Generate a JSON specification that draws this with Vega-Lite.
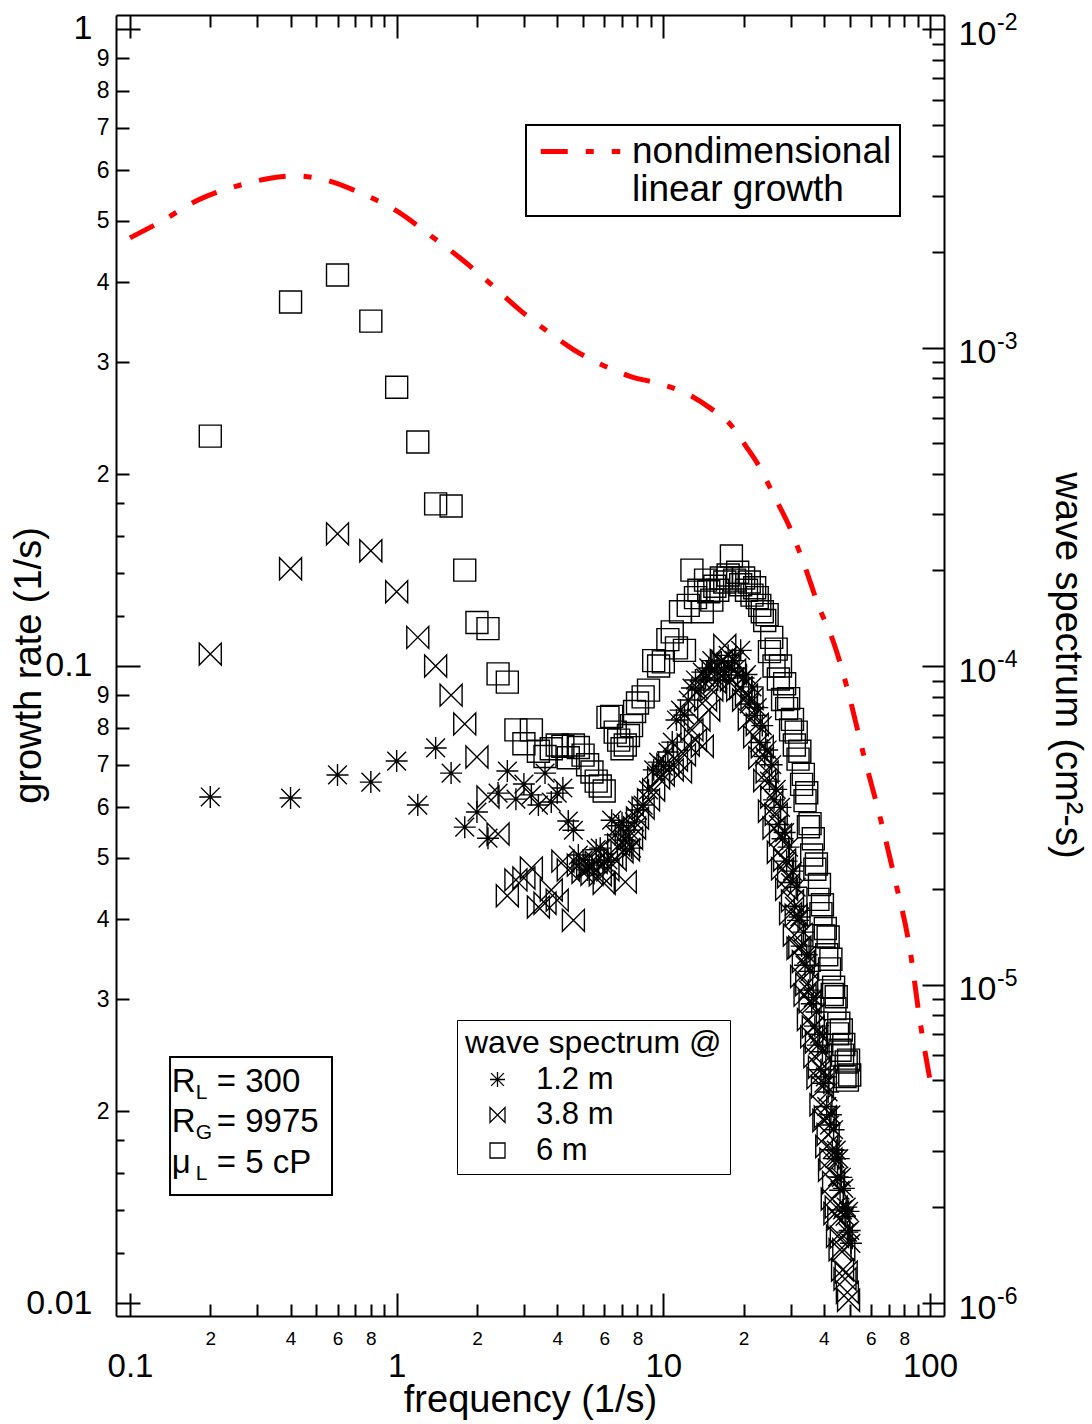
{
"$schema": "https://vega.github.io/schema/vega-lite/v6.json",
"width": 828, "height": 1301,
"autosize": {"type": "none"},
"padding": {"left": 116, "top": 15, "right": 148, "bottom": 108},
"background": "white",
"config": {
 "view": {"stroke": null},
 "font": "Liberation Sans",
 "axis": {"domainColor": "#000", "domainWidth": 2, "tickColor": "#000", "tickWidth": 2, "labelColor": "#000", "titleColor": "#000", "titleFontWeight": "normal", "grid": false, "labelOverlap": false, "labelFlush": false, "labelFont": "Liberation Sans", "titleFont": "Liberation Sans"},
 "legend": {"labelFont": "Liberation Sans", "titleFont": "Liberation Sans", "labelColor": "#000", "titleColor": "#000"}
},
"datasets": {
 "growth": [
  {"f":0.1,"g":0.47,"k":"nondimensional"},{"f":0.13,"g":0.498,"k":"nondimensional"},{"f":0.18,"g":0.539,"k":"nondimensional"},{"f":0.26,"g":0.569,"k":"nondimensional"},{"f":0.335,"g":0.583,"k":"nondimensional"},{"f":0.42,"g":0.588,"k":"nondimensional"},{"f":0.56,"g":0.577,"k":"nondimensional"},{"f":0.73,"g":0.553,"k":"nondimensional"},{"f":1.0,"g":0.518,"k":"nondimensional"},{"f":1.33,"g":0.475,"k":"nondimensional"},{"f":1.73,"g":0.437,"k":"nondimensional"},{"f":2.25,"g":0.398,"k":"nondimensional"},{"f":2.9,"g":0.362,"k":"nondimensional"},{"f":3.76,"g":0.333,"k":"nondimensional"},{"f":4.65,"g":0.313,"k":"nondimensional"},{"f":5.8,"g":0.298,"k":"nondimensional"},{"f":7.5,"g":0.285,"k":"nondimensional"},{"f":9.8,"g":0.277,"k":"nondimensional"},{"f":12.6,"g":0.266,"k":"nondimensional"},{"f":15,"g":0.254,"k":"nondimensional"},{"f":17.9,"g":0.239,"k":"nondimensional"},{"f":20.3,"g":0.222,"k":"nondimensional"},{"f":23,"g":0.205,"k":"nondimensional"},{"f":26,"g":0.185,"k":"nondimensional"},{"f":29.6,"g":0.166,"k":"nondimensional"},{"f":33.6,"g":0.145,"k":"nondimensional"},{"f":38,"g":0.125,"k":"nondimensional"},{"f":43.8,"g":0.108,"k":"nondimensional"},{"f":49.7,"g":0.09,"k":"nondimensional"},{"f":56.4,"g":0.0725,"k":"nondimensional"},{"f":64.7,"g":0.0583,"k":"nondimensional"},{"f":74,"g":0.0461,"k":"nondimensional"},{"f":84.2,"g":0.0358,"k":"nondimensional"},{"f":91.6,"g":0.0278,"k":"nondimensional"},{"f":100,"g":0.0224,"k":"nondimensional"}
 ],
 "box": [{"f":0.1413,"f2":0.5722,"g":0.02433,"g2":0.01477}],
 "params": [
  {"f":0.1435,"g":0.02144,"a":"R","sub":"L","b":"= 300"},
  {"f":0.1435,"g":0.01855,"a":"R","sub":"G","b":"= 9975"},
  {"f":0.1435,"g":0.0160,"a":"\u03bc","sub":"L","b":"= 5 cP"}
 ],
 "exps": [{"s":0.01,"t":"-2"},{"s":0.001,"t":"-3"},{"s":0.0001,"t":"-4"},{"s":0.00001,"t":"-5"},{"s":0.000001,"t":"-6"}],
 "spectrum": [
  {"f":0.2,"s":5.27e-4,"h":"6 m"},{"f":0.4,"s":1.39e-3,"h":"6 m"},{"f":0.6,"s":1.69e-3,"h":"6 m"},{"f":0.8,"s":1.21e-3,"h":"6 m"},{"f":1.0,"s":7.5e-4,"h":"6 m"},{"f":1.2,"s":5.05e-4,"h":"6 m"},{"f":1.4,"s":3.23e-4,"h":"6 m"},{"f":1.6,"s":3.18e-4,"h":"6 m"},{"f":1.8,"s":2.0e-4,"h":"6 m"},{"f":2.0,"s":1.37e-4,"h":"6 m"},
  {"f":2.2,"s":1.31e-4,"h":"6 m"},{"f":2.4,"s":9.45e-5,"h":"6 m"},{"f":2.6,"s":8.9e-5,"h":"6 m"},{"f":2.8,"s":6.3e-5,"h":"6 m"},{"f":3.0,"s":5.7e-5,"h":"6 m"},{"f":3.2,"s":6.3e-5,"h":"6 m"},{"f":3.4,"s":5.4e-5,"h":"6 m"},{"f":3.6,"s":5.2e-5,"h":"6 m"},{"f":3.8,"s":5.5e-5,"h":"6 m"},{"f":4.0,"s":5.65e-5,"h":"6 m"},
  {"f":4.2,"s":5.6e-5,"h":"6 m"},{"f":4.4,"s":5.15e-5,"h":"6 m"},{"f":4.6,"s":5.65e-5,"h":"6 m"},{"f":4.8,"s":5.55e-5,"h":"6 m"},{"f":5.0,"s":5.25e-5,"h":"6 m"},{"f":5.2,"s":4.9e-5,"h":"6 m"},{"f":5.4,"s":4.65e-5,"h":"6 m"},{"f":5.6,"s":4.35e-5,"h":"6 m"},{"f":5.8,"s":4.2e-5,"h":"6 m"},{"f":6.0,"s":4.05e-5,"h":"6 m"},
  {"f":6.2,"s":6.9e-5,"h":"6 m"},{"f":6.4,"s":6.95e-5,"h":"6 m"},{"f":6.6,"s":6.2e-5,"h":"6 m"},{"f":6.8,"s":5.85e-5,"h":"6 m"},{"f":7.0,"s":5.5e-5,"h":"6 m"},{"f":7.2,"s":5.65e-5,"h":"6 m"},{"f":7.4,"s":6.05e-5,"h":"6 m"},{"f":7.6,"s":6.5e-5,"h":"6 m"},{"f":7.8,"s":7.2e-5,"h":"6 m"},{"f":8.0,"s":7.65e-5,"h":"6 m"},
  {"f":8.4,"s":8.0e-5,"h":"6 m"},{"f":8.8,"s":8.4e-5,"h":"6 m"},{"f":9.2,"s":1.04e-4,"h":"6 m"},{"f":9.6,"s":1.0e-4,"h":"6 m"},{"f":10,"s":1.03e-4,"h":"6 m"},{"f":10.4,"s":1.21e-4,"h":"6 m"},{"f":10.8,"s":1.28e-4,"h":"6 m"},{"f":11.2,"s":1.14e-4,"h":"6 m"},{"f":11.6,"s":1.48e-4,"h":"6 m"},{"f":12,"s":1.12e-4,"h":"6 m"},
  {"f":12.4,"s":1.55e-4,"h":"6 m"},{"f":12.8,"s":2.0e-4,"h":"6 m"},{"f":13.2,"s":1.64e-4,"h":"6 m"},{"f":13.6,"s":1.73e-4,"h":"6 m"},{"f":14,"s":1.48e-4,"h":"6 m"},{"f":14.4,"s":1.86e-4,"h":"6 m"},{"f":14.8,"s":1.71e-4,"h":"6 m"},{"f":15.2,"s":1.61e-4,"h":"6 m"},{"f":15.6,"s":1.78e-4,"h":"6 m"},{"f":16,"s":1.73e-4,"h":"6 m"},
  {"f":16.5,"s":1.89e-4,"h":"6 m"},{"f":17,"s":1.835e-4,"h":"6 m"},{"f":17.5,"s":1.93e-4,"h":"6 m"},{"f":18,"s":2.215e-4,"h":"6 m"},{"f":18.5,"s":1.86e-4,"h":"6 m"},{"f":19,"s":1.97e-4,"h":"6 m"},{"f":19.5,"s":1.8e-4,"h":"6 m"},{"f":20,"s":1.89e-4,"h":"6 m"},{"f":20.5,"s":1.73e-4,"h":"6 m"},{"f":21,"s":1.835e-4,"h":"6 m"},
  {"f":21.5,"s":1.67e-4,"h":"6 m"},{"f":22,"s":1.76e-4,"h":"6 m"},{"f":22.5,"s":1.64e-4,"h":"6 m"},{"f":23,"s":1.55e-4,"h":"6 m"},{"f":23.5,"s":1.48e-4,"h":"6 m"},{"f":24,"s":1.39e-4,"h":"6 m"},{"f":24.5,"s":1.45e-4,"h":"6 m"},{"f":25,"s":1.11e-4,"h":"6 m"},{"f":25.5,"s":1.23e-4,"h":"6 m"},{"f":26,"s":1.0e-4,"h":"6 m"},
  {"f":26.5,"s":1.13e-4,"h":"6 m"},{"f":27,"s":9.1e-5,"h":"6 m"},{"f":27.5,"s":1.0e-4,"h":"6 m"},{"f":28,"s":7.85e-5,"h":"6 m"},{"f":28.5,"s":8.8e-5,"h":"6 m"},{"f":29,"s":7.35e-5,"h":"6 m"},{"f":29.5,"s":7.9e-5,"h":"6 m"},{"f":30,"s":6.3e-5,"h":"6 m"},{"f":30.5,"s":6.8e-5,"h":"6 m"},{"f":31,"s":5.65e-5,"h":"6 m"},
  {"f":31.5,"s":6.2e-5,"h":"6 m"},{"f":32,"s":5.1e-5,"h":"6 m"},{"f":32.5,"s":5.4e-5,"h":"6 m"},{"f":33,"s":4.25e-5,"h":"6 m"},{"f":33.5,"s":4.57e-5,"h":"6 m"},{"f":34,"s":3.78e-5,"h":"6 m"},{"f":34.5,"s":4.0e-5,"h":"6 m"},{"f":35,"s":3.13e-5,"h":"6 m"},{"f":35.5,"s":3.2e-5,"h":"6 m"},{"f":36,"s":2.55e-5,"h":"6 m"},
  {"f":36.5,"s":2.87e-5,"h":"6 m"},{"f":37,"s":2.3e-5,"h":"6 m"},{"f":37.5,"s":2.39e-5,"h":"6 m"},{"f":38,"s":1.85e-5,"h":"6 m"},{"f":38.5,"s":2.06e-5,"h":"6 m"},{"f":39,"s":1.67e-5,"h":"6 m"},{"f":39.5,"s":1.78e-5,"h":"6 m"},{"f":40,"s":1.42e-5,"h":"6 m"},{"f":40.5,"s":1.5e-5,"h":"6 m"},{"f":41,"s":1.24e-5,"h":"6 m"},
  {"f":41.5,"s":1.41e-5,"h":"6 m"},{"f":42,"s":1.12e-5,"h":"6 m"},{"f":42.5,"s":1.2e-5,"h":"6 m"},{"f":43,"s":9.3e-6,"h":"6 m"},{"f":43.5,"s":9.8e-6,"h":"6 m"},{"f":44,"s":8.4e-6,"h":"6 m"},{"f":44.5,"s":9.15e-6,"h":"6 m"},{"f":45,"s":7.0e-6,"h":"6 m"},{"f":45.5,"s":7.56e-6,"h":"6 m"},{"f":46,"s":6.22e-6,"h":"6 m"},
  {"f":46.5,"s":7.2e-6,"h":"6 m"},{"f":47,"s":6.0e-6,"h":"6 m"},{"f":47.5,"s":6.48e-6,"h":"6 m"},{"f":48,"s":5.14e-6,"h":"6 m"},{"f":48.5,"s":5.71e-6,"h":"6 m"},{"f":49,"s":5.01e-6,"h":"6 m"},{"f":49.5,"s":5.79e-6,"h":"6 m"},{"f":50,"s":5.2e-6,"h":"6 m"},

  {"f":0.2,"s":1.09e-4,"h":"3.8 m"},{"f":0.4,"s":2.02e-4,"h":"3.8 m"},{"f":0.6,"s":2.6e-4,"h":"3.8 m"},{"f":0.8,"s":2.3e-4,"h":"3.8 m"},{"f":1.0,"s":1.71e-4,"h":"3.8 m"},{"f":1.2,"s":1.23e-4,"h":"3.8 m"},{"f":1.4,"s":1.0e-4,"h":"3.8 m"},{"f":1.6,"s":8.1e-5,"h":"3.8 m"},{"f":1.8,"s":6.58e-5,"h":"3.8 m"},{"f":2.0,"s":5.18e-5,"h":"3.8 m"},
  {"f":2.2,"s":3.88e-5,"h":"3.8 m"},{"f":2.4,"s":2.97e-5,"h":"3.8 m"},{"f":2.6,"s":1.9e-5,"h":"3.8 m"},{"f":2.8,"s":2.13e-5,"h":"3.8 m"},{"f":3.0,"s":2.16e-5,"h":"3.8 m"},{"f":3.2,"s":2.32e-5,"h":"3.8 m"},{"f":3.4,"s":1.75e-5,"h":"3.8 m"},{"f":3.6,"s":1.8e-5,"h":"3.8 m"},{"f":3.8,"s":1.98e-5,"h":"3.8 m"},{"f":4.0,"s":1.84e-5,"h":"3.8 m"},
  {"f":4.2,"s":2.44e-5,"h":"3.8 m"},{"f":4.4,"s":2.29e-5,"h":"3.8 m"},{"f":4.6,"s":1.59e-5,"h":"3.8 m"},{"f":4.8,"s":2.37e-5,"h":"3.8 m"},{"f":5.0,"s":2.25e-5,"h":"3.8 m"},{"f":5.2,"s":2.36e-5,"h":"3.8 m"},{"f":5.4,"s":2.22e-5,"h":"3.8 m"},{"f":5.6,"s":2.42e-5,"h":"3.8 m"},{"f":5.8,"s":2.21e-5,"h":"3.8 m"},{"f":6.0,"s":2.08e-5,"h":"3.8 m"},
  {"f":6.2,"s":2.29e-5,"h":"3.8 m"},{"f":6.4,"s":2.53e-5,"h":"3.8 m"},{"f":6.6,"s":2.47e-5,"h":"3.8 m"},{"f":6.8,"s":2.74e-5,"h":"3.8 m"},{"f":7.0,"s":2.61e-5,"h":"3.8 m"},{"f":7.2,"s":2.1e-5,"h":"3.8 m"},{"f":7.4,"s":2.65e-5,"h":"3.8 m"},{"f":7.6,"s":2.88e-5,"h":"3.8 m"},{"f":7.8,"s":3.1e-5,"h":"3.8 m"},{"f":8.0,"s":3.33e-5,"h":"3.8 m"},
  {"f":8.4,"s":3.58e-5,"h":"3.8 m"},{"f":8.8,"s":3.8e-5,"h":"3.8 m"},{"f":9.2,"s":4.08e-5,"h":"3.8 m"},{"f":9.6,"s":4.45e-5,"h":"3.8 m"},{"f":10,"s":4.55e-5,"h":"3.8 m"},{"f":10.4,"s":4.89e-5,"h":"3.8 m"},{"f":10.8,"s":4.72e-5,"h":"3.8 m"},{"f":11.2,"s":5.07e-5,"h":"3.8 m"},{"f":11.6,"s":4.65e-5,"h":"3.8 m"},{"f":12,"s":5.26e-5,"h":"3.8 m"},
  {"f":12.4,"s":5.65e-5,"h":"3.8 m"},{"f":12.8,"s":6.3e-5,"h":"3.8 m"},{"f":13.2,"s":5.86e-5,"h":"3.8 m"},{"f":13.6,"s":6.77e-5,"h":"3.8 m"},{"f":14,"s":5.6e-5,"h":"3.8 m"},{"f":14.4,"s":7.82e-5,"h":"3.8 m"},{"f":14.8,"s":7.27e-5,"h":"3.8 m"},{"f":15.2,"s":8.41e-5,"h":"3.8 m"},{"f":15.6,"s":8.91e-5,"h":"3.8 m"},{"f":16,"s":9.57e-5,"h":"3.8 m"},
  {"f":16.5,"s":1.04e-4,"h":"3.8 m"},{"f":17,"s":1.16e-4,"h":"3.8 m"},{"f":17.5,"s":1.01e-4,"h":"3.8 m"},{"f":18,"s":9.04e-5,"h":"3.8 m"},{"f":18.5,"s":9.71e-5,"h":"3.8 m"},{"f":19,"s":8.41e-5,"h":"3.8 m"},{"f":19.5,"s":8.53e-5,"h":"3.8 m"},{"f":20,"s":7.82e-5,"h":"3.8 m"},{"f":20.5,"s":8.1e-5,"h":"3.8 m"},{"f":21,"s":6.8e-5,"h":"3.8 m"},
  {"f":21.5,"s":7.9e-5,"h":"3.8 m"},{"f":22,"s":6.0e-5,"h":"3.8 m"},{"f":22.5,"s":6.55e-5,"h":"3.8 m"},{"f":23,"s":5.15e-5,"h":"3.8 m"},{"f":23.5,"s":5.58e-5,"h":"3.8 m"},{"f":24,"s":4.37e-5,"h":"3.8 m"},{"f":24.5,"s":4.65e-5,"h":"3.8 m"},{"f":25,"s":3.5e-5,"h":"3.8 m"},{"f":25.5,"s":3.88e-5,"h":"3.8 m"},{"f":26,"s":3.1e-5,"h":"3.8 m"},
  {"f":26.5,"s":3.42e-5,"h":"3.8 m"},{"f":27,"s":2.6e-5,"h":"3.8 m"},{"f":27.5,"s":2.95e-5,"h":"3.8 m"},{"f":28,"s":2.31e-5,"h":"3.8 m"},{"f":28.5,"s":2.46e-5,"h":"3.8 m"},{"f":29,"s":1.99e-5,"h":"3.8 m"},{"f":29.5,"s":2.18e-5,"h":"3.8 m"},{"f":30,"s":1.67e-5,"h":"3.8 m"},{"f":30.5,"s":1.83e-5,"h":"3.8 m"},{"f":31,"s":1.43e-5,"h":"3.8 m"},
  {"f":31.5,"s":1.65e-5,"h":"3.8 m"},{"f":32,"s":1.3e-5,"h":"3.8 m"},{"f":32.5,"s":1.31e-5,"h":"3.8 m"},{"f":33,"s":1.06e-5,"h":"3.8 m"},{"f":33.5,"s":1.18e-5,"h":"3.8 m"},{"f":34,"s":9.26e-6,"h":"3.8 m"},{"f":34.5,"s":1.0e-5,"h":"3.8 m"},{"f":35,"s":7.76e-6,"h":"3.8 m"},{"f":35.5,"s":8.82e-6,"h":"3.8 m"},{"f":36,"s":6.86e-6,"h":"3.8 m"},
  {"f":36.5,"s":7.36e-6,"h":"3.8 m"},{"f":37,"s":5.94e-6,"h":"3.8 m"},{"f":37.5,"s":6.6e-6,"h":"3.8 m"},{"f":38,"s":5.09e-6,"h":"3.8 m"},{"f":38.5,"s":5.5e-6,"h":"3.8 m"},{"f":39,"s":4.19e-6,"h":"3.8 m"},{"f":39.5,"s":4.77e-6,"h":"3.8 m"},{"f":40,"s":3.74e-6,"h":"3.8 m"},{"f":40.5,"s":3.84e-6,"h":"3.8 m"},{"f":41,"s":3.1e-6,"h":"3.8 m"},
  {"f":41.5,"s":3.38e-6,"h":"3.8 m"},{"f":42,"s":2.61e-6,"h":"3.8 m"},{"f":42.5,"s":2.83e-6,"h":"3.8 m"},{"f":43,"s":2.12e-6,"h":"3.8 m"},{"f":43.5,"s":2.39e-6,"h":"3.8 m"},{"f":44,"s":1.91e-6,"h":"3.8 m"},{"f":44.5,"s":2.0e-6,"h":"3.8 m"},{"f":45,"s":1.62e-6,"h":"3.8 m"},{"f":45.5,"s":1.84e-6,"h":"3.8 m"},{"f":46,"s":1.47e-6,"h":"3.8 m"},
  {"f":46.5,"s":1.61e-6,"h":"3.8 m"},{"f":47,"s":1.27e-6,"h":"3.8 m"},{"f":47.5,"s":1.47e-6,"h":"3.8 m"},{"f":48,"s":1.19e-6,"h":"3.8 m"},{"f":48.5,"s":1.25e-6,"h":"3.8 m"},{"f":49,"s":1.08e-6,"h":"3.8 m"},{"f":49.5,"s":1.02e-6,"h":"3.8 m"},

  {"f":0.2,"s":3.88e-5,"h":"1.2 m"},{"f":0.4,"s":3.85e-5,"h":"1.2 m"},{"f":0.6,"s":4.55e-5,"h":"1.2 m"},{"f":0.8,"s":4.32e-5,"h":"1.2 m"},{"f":1.0,"s":5.03e-5,"h":"1.2 m"},{"f":1.2,"s":3.66e-5,"h":"1.2 m"},{"f":1.4,"s":5.53e-5,"h":"1.2 m"},{"f":1.6,"s":4.61e-5,"h":"1.2 m"},{"f":1.8,"s":3.12e-5,"h":"1.2 m"},{"f":2.0,"s":3.48e-5,"h":"1.2 m"},
  {"f":2.2,"s":2.88e-5,"h":"1.2 m"},{"f":2.4,"s":3.99e-5,"h":"1.2 m"},{"f":2.6,"s":4.68e-5,"h":"1.2 m"},{"f":2.8,"s":3.82e-5,"h":"1.2 m"},{"f":3.0,"s":4.26e-5,"h":"1.2 m"},{"f":3.2,"s":3.94e-5,"h":"1.2 m"},{"f":3.4,"s":3.66e-5,"h":"1.2 m"},{"f":3.6,"s":4.61e-5,"h":"1.2 m"},{"f":3.8,"s":3.74e-5,"h":"1.2 m"},{"f":4.0,"s":3.99e-5,"h":"1.2 m"},
  {"f":4.2,"s":4.14e-5,"h":"1.2 m"},{"f":4.4,"s":3.26e-5,"h":"1.2 m"},{"f":4.6,"s":3.05e-5,"h":"1.2 m"},{"f":4.8,"s":2.55e-5,"h":"1.2 m"},{"f":5.0,"s":2.46e-5,"h":"1.2 m"},{"f":5.2,"s":2.29e-5,"h":"1.2 m"},{"f":5.4,"s":2.37e-5,"h":"1.2 m"},{"f":5.6,"s":2.65e-5,"h":"1.2 m"},{"f":5.8,"s":2.68e-5,"h":"1.2 m"},{"f":6.0,"s":2.42e-5,"h":"1.2 m"},
  {"f":6.2,"s":2.46e-5,"h":"1.2 m"},{"f":6.4,"s":3.28e-5,"h":"1.2 m"},{"f":6.6,"s":2.95e-5,"h":"1.2 m"},{"f":6.8,"s":3.15e-5,"h":"1.2 m"},{"f":7.0,"s":3.22e-5,"h":"1.2 m"},{"f":7.2,"s":2.84e-5,"h":"1.2 m"},{"f":7.4,"s":3.05e-5,"h":"1.2 m"},{"f":7.6,"s":2.68e-5,"h":"1.2 m"},{"f":7.8,"s":3.24e-5,"h":"1.2 m"},{"f":8.0,"s":3.53e-5,"h":"1.2 m"},
  {"f":8.4,"s":3.66e-5,"h":"1.2 m"},{"f":8.8,"s":4.08e-5,"h":"1.2 m"},{"f":9.2,"s":4.72e-5,"h":"1.2 m"},{"f":9.6,"s":4.99e-5,"h":"1.2 m"},{"f":10,"s":4.85e-5,"h":"1.2 m"},{"f":10.4,"s":5.37e-5,"h":"1.2 m"},{"f":10.8,"s":5.77e-5,"h":"1.2 m"},{"f":11.2,"s":6.77e-5,"h":"1.2 m"},{"f":11.6,"s":7.27e-5,"h":"1.2 m"},{"f":12,"s":7.02e-5,"h":"1.2 m"},
  {"f":12.4,"s":7.82e-5,"h":"1.2 m"},{"f":12.8,"s":8.53e-5,"h":"1.2 m"},{"f":13.2,"s":9.04e-5,"h":"1.2 m"},{"f":13.6,"s":8.41e-5,"h":"1.2 m"},{"f":14,"s":9.57e-5,"h":"1.2 m"},{"f":14.4,"s":9.17e-5,"h":"1.2 m"},{"f":14.8,"s":9.86e-5,"h":"1.2 m"},{"f":15.2,"s":1.04e-4,"h":"1.2 m"},{"f":15.6,"s":9.71e-5,"h":"1.2 m"},{"f":16,"s":9.04e-5,"h":"1.2 m"},
  {"f":16.5,"s":1.03e-4,"h":"1.2 m"},{"f":17,"s":9.57e-5,"h":"1.2 m"},{"f":17.5,"s":1.08e-4,"h":"1.2 m"},{"f":18,"s":9.86e-5,"h":"1.2 m"},{"f":18.5,"s":1.04e-4,"h":"1.2 m"},{"f":19,"s":9.37e-5,"h":"1.2 m"},{"f":19.5,"s":1.12e-4,"h":"1.2 m"},{"f":20,"s":9.17e-5,"h":"1.2 m"},{"f":20.5,"s":9.4e-5,"h":"1.2 m"},{"f":21,"s":7.6e-5,"h":"1.2 m"},
  {"f":21.5,"s":8.6e-5,"h":"1.2 m"},{"f":22,"s":7.0e-5,"h":"1.2 m"},{"f":22.5,"s":7.4e-5,"h":"1.2 m"},{"f":23,"s":5.75e-5,"h":"1.2 m"},{"f":23.5,"s":6.5e-5,"h":"1.2 m"},{"f":24,"s":5.2e-5,"h":"1.2 m"},{"f":24.5,"s":5.45e-5,"h":"1.2 m"},{"f":25,"s":4.35e-5,"h":"1.2 m"},{"f":25.5,"s":4.9e-5,"h":"1.2 m"},{"f":26,"s":3.8e-5,"h":"1.2 m"},
  {"f":26.5,"s":4.1e-5,"h":"1.2 m"},{"f":27,"s":3.18e-5,"h":"1.2 m"},{"f":27.5,"s":3.6e-5,"h":"1.2 m"},{"f":28,"s":2.87e-5,"h":"1.2 m"},{"f":28.5,"s":3.0e-5,"h":"1.2 m"},{"f":29,"s":2.44e-5,"h":"1.2 m"},{"f":29.5,"s":2.7e-5,"h":"1.2 m"},{"f":30,"s":2.09e-5,"h":"1.2 m"},{"f":30.5,"s":2.27e-5,"h":"1.2 m"},{"f":31,"s":1.76e-5,"h":"1.2 m"},
  {"f":31.5,"s":2.02e-5,"h":"1.2 m"},{"f":32,"s":1.59e-5,"h":"1.2 m"},{"f":32.5,"s":1.63e-5,"h":"1.2 m"},{"f":33,"s":1.32e-5,"h":"1.2 m"},{"f":33.5,"s":1.46e-5,"h":"1.2 m"},{"f":34,"s":1.15e-5,"h":"1.2 m"},{"f":34.5,"s":1.24e-5,"h":"1.2 m"},{"f":35,"s":9.6e-6,"h":"1.2 m"},{"f":35.5,"s":1.1e-5,"h":"1.2 m"},{"f":36,"s":8.7e-6,"h":"1.2 m"},
  {"f":36.5,"s":9.1e-6,"h":"1.2 m"},{"f":37,"s":7.4e-6,"h":"1.2 m"},{"f":37.5,"s":8.2e-6,"h":"1.2 m"},{"f":38,"s":6.45e-6,"h":"1.2 m"},{"f":38.5,"s":6.98e-6,"h":"1.2 m"},{"f":39,"s":5.4e-6,"h":"1.2 m"},{"f":39.5,"s":6.15e-6,"h":"1.2 m"},{"f":40,"s":4.9e-6,"h":"1.2 m"},{"f":40.5,"s":5.13e-6,"h":"1.2 m"},{"f":41,"s":4.14e-6,"h":"1.2 m"},
  {"f":41.5,"s":4.6e-6,"h":"1.2 m"},{"f":42,"s":3.62e-6,"h":"1.2 m"},{"f":42.5,"s":3.9e-6,"h":"1.2 m"},{"f":43,"s":3.03e-6,"h":"1.2 m"},{"f":43.5,"s":3.5e-6,"h":"1.2 m"},{"f":44,"s":2.84e-6,"h":"1.2 m"},{"f":44.5,"s":3.02e-6,"h":"1.2 m"},{"f":45,"s":2.49e-6,"h":"1.2 m"},{"f":45.5,"s":2.84e-6,"h":"1.2 m"},{"f":46,"s":2.26e-6,"h":"1.2 m"},
  {"f":46.5,"s":2.48e-6,"h":"1.2 m"},{"f":47,"s":1.96e-6,"h":"1.2 m"},{"f":47.5,"s":2.29e-6,"h":"1.2 m"},{"f":48,"s":1.87e-6,"h":"1.2 m"},{"f":48.5,"s":2.0e-6,"h":"1.2 m"},{"f":49,"s":1.67e-6,"h":"1.2 m"},{"f":49.5,"s":1.94e-6,"h":"1.2 m"},{"f":50,"s":1.69e-6,"h":"1.2 m"},{"f":50.5,"s":1.54e-6,"h":"1.2 m"}
 ]
},
"layer": [
 {"layer": [
  {"data": {"name": "growth"},
   "mark": {"type": "line", "strokeWidth": 5, "strokeDash": [27, 18, 8, 18], "interpolate": "monotone"},
   "encoding": {
    "x": {"field": "f", "type": "quantitative",
      "scale": {"type": "log", "domain": [0.08861, 112.85], "nice": false},
      "axis": {"orient": "bottom",
        "values": [0.1,0.2,0.3,0.4,0.5,0.6,0.7,0.8,0.9,1,2,3,4,5,6,7,8,9,10,20,30,40,50,60,70,80,90,100],
        "labelExpr": "abs(datum.value/pow(10,floor(log(datum.value)/LN10+1e-6))-1)<0.001 ? format(datum.value,'~g') : (round(datum.value/pow(10,floor(log(datum.value)/LN10+1e-6)))%2==0 ? ''+round(datum.value/pow(10,floor(log(datum.value)/LN10+1e-6))) : '')",
        "labelFontSize": {"condition": {"test": "abs(datum.value/pow(10,floor(log(datum.value)/LN10+1e-6))-1)<0.001", "value": 33}, "value": 19},
        "labelPadding": {"condition": {"test": "abs(datum.value/pow(10,floor(log(datum.value)/LN10+1e-6))-1)<0.001", "value": 57}, "value": 25},
        "tickSize": {"condition": {"test": "abs(datum.value/pow(10,floor(log(datum.value)/LN10+1e-6))-1)<0.001", "value": -23}, "value": -12},
        "labelBaseline": "top",
        "title": "frequency (1/s)", "titleFontSize": 38, "titleBaseline": "alphabetic", "titleAlign": "center", "titleX": 414, "titleY": 95}},
    "y": {"field": "g", "type": "quantitative",
      "scale": {"type": "log", "domain": [0.009541, 1.0519], "nice": false},
      "axis": {"orient": "left",
        "values": [0.01,0.012,0.014,0.016,0.018,0.02,0.03,0.04,0.05,0.06,0.07,0.08,0.09,0.1,0.12,0.14,0.16,0.18,0.2,0.3,0.4,0.5,0.6,0.7,0.8,0.9,1],
        "labelExpr": "abs(datum.value/pow(10,floor(log(datum.value)/LN10+1e-6))-1)<0.001 ? format(datum.value,'~g') : (abs(datum.value/pow(10,floor(log(datum.value)/LN10+1e-6))-round(datum.value/pow(10,floor(log(datum.value)/LN10+1e-6))))<0.001 ? ''+round(datum.value/pow(10,floor(log(datum.value)/LN10+1e-6))) : '')",
        "labelFontSize": {"condition": {"test": "abs(datum.value/pow(10,floor(log(datum.value)/LN10+1e-6))-1)<0.001", "value": 34}, "value": 23},
        "labelPadding": {"condition": {"test": "abs(datum.value/pow(10,floor(log(datum.value)/LN10+1e-6))-1)<0.001", "value": 48}, "value": 20},
        "tickSize": {"condition": [
            {"test": "abs(datum.value/pow(10,floor(log(datum.value)/LN10+1e-6))-1)<0.001", "value": -24},
            {"test": "abs(datum.value/pow(10,floor(log(datum.value)/LN10+1e-6))-round(datum.value/pow(10,floor(log(datum.value)/LN10+1e-6))))<0.001", "value": -13}],
          "value": -8},
        "title": "growth rate (1/s)", "titleFontSize": 38, "titleAngle": -90, "titleBaseline": "alphabetic", "titleAlign": "center", "titleX": -76, "titleY": 650}},
    "color": {"field": "k", "type": "nominal",
      "scale": {"domain": ["nondimensional", "linear growth"], "range": ["#ff0000", "#ff0000"]},
      "legend": {"orient": "none", "legendX": 410, "legendY": 110, "title": null,
        "symbolType": "M-2.65,0H2.65", "symbolSize": 900, "symbolStrokeWidth": 5, "symbolDash": [27, 18, 8, 18], "symbolFillColor": "transparent",
        "symbolOffset": 28, "labelOffset": 33, "labelFontSize": 37, "labelLimit": 500, "rowPadding": 0,
        "padding": 8, "strokeColor": "#000",
        "encode": {"symbols": {"update": {"strokeOpacity": {"signal": "datum.value === 'linear growth' ? 0 : 1"}}},
                   "legend": {"update": {"strokeWidth": {"value": 2}}}}}}
   }},
  {"data": {"name": "box"},
   "mark": {"type": "rect", "fillOpacity": 0, "stroke": "#000", "strokeWidth": 2},
   "encoding": {"x": {"field": "f", "type": "quantitative"}, "x2": {"field": "f2"}, "y": {"field": "g", "type": "quantitative"}, "y2": {"field": "g2"}}},
  {"data": {"name": "params"},
   "mark": {"type": "text", "align": "left", "baseline": "alphabetic", "fontSize": 33, "color": "#000"},
   "encoding": {"x": {"field": "f", "type": "quantitative"}, "y": {"field": "g", "type": "quantitative"}, "text": {"field": "a"}}},
  {"data": {"name": "params"},
   "mark": {"type": "text", "align": "left", "baseline": "alphabetic", "fontSize": 21, "dx": 24, "dy": 7, "color": "#000"},
   "encoding": {"x": {"field": "f", "type": "quantitative"}, "y": {"field": "g", "type": "quantitative"}, "text": {"field": "sub"}}},
  {"data": {"name": "params"},
   "mark": {"type": "text", "align": "left", "baseline": "alphabetic", "fontSize": 33, "dx": 45, "color": "#000"},
   "encoding": {"x": {"field": "f", "type": "quantitative"}, "y": {"field": "g", "type": "quantitative"}, "text": {"field": "b"}}}
 ]},
 {"layer": [
  {"data": {"name": "spectrum"},
   "mark": {"type": "point", "filled": false, "size": 484, "strokeWidth": 1.4, "color": "#000", "opacity": 1},
   "encoding": {
    "x": {"field": "f", "type": "quantitative",
      "scale": {"type": "log", "domain": [0.08861, 112.85], "nice": false},
      "axis": {"orient": "top", "labels": false, "title": null,
        "values": [0.1,0.2,0.3,0.4,0.5,0.6,0.7,0.8,0.9,1,2,3,4,5,6,7,8,9,10,20,30,40,50,60,70,80,90,100],
        "tickSize": {"condition": {"test": "abs(datum.value/pow(10,floor(log(datum.value)/LN10+1e-6))-1)<0.001", "value": -23}, "value": -12}}},
    "y": {"field": "s", "type": "quantitative",
      "scale": {"type": "log", "domain": [9.104e-7, 0.011066], "nice": false},
      "axis": {"orient": "right",
        "values": [1e-6,2e-6,3e-6,4e-6,5e-6,6e-6,7e-6,8e-6,9e-6,1e-5,2e-5,3e-5,4e-5,5e-5,6e-5,7e-5,8e-5,9e-5,1e-4,2e-4,3e-4,4e-4,5e-4,6e-4,7e-4,8e-4,9e-4,1e-3,2e-3,3e-3,4e-3,5e-3,6e-3,7e-3,8e-3,9e-3,1e-2],
        "labelExpr": "abs(datum.value/pow(10,floor(log(datum.value)/LN10+1e-6))-1)<0.001 ? '10' : ''",
        "labelFontSize": 34, "labelOffset": 5,
        "labelPadding": {"condition": {"test": "abs(datum.value/pow(10,floor(log(datum.value)/LN10+1e-6))-1)<0.001", "value": 36}, "value": 20},
        "tickSize": {"condition": {"test": "abs(datum.value/pow(10,floor(log(datum.value)/LN10+1e-6))-1)<0.001", "value": -22}, "value": -12},
        "title": "wave spectrum (cm\u00b2-s)", "titleFontSize": 38, "titleAngle": 90, "titleBaseline": "alphabetic", "titleAlign": "center", "titleX": 111, "titleY": 650}},
    "shape": {"field": "h", "type": "nominal",
      "scale": {"domain": ["1.2 m", "3.8 m", "6 m"],
        "range": ["M-1,0H1M0,-1V1M-0.85,-0.85L0.85,0.85M-0.85,0.85L0.85,-0.85", "M-1,-1L1,1V-1L-1,1Z", "M-1,-1H1V1H-1Z"]},
      "legend": {"orient": "none", "legendX": 341, "legendY": 1005,
        "title": "wave spectrum @", "titleFontSize": 32, "titleFontWeight": "normal", "titlePadding": 4, "titleLimit": 500,
        "labelFontSize": 31, "labelOffset": 23, "symbolOffset": 17, "symbolSize": 225, "symbolStrokeWidth": 1.3,
        "symbolStrokeColor": "#000", "symbolFillColor": "transparent", "rowPadding": 3.5,
        "padding": 8, "strokeColor": "#000",
        "encode": {"legend": {"update": {"strokeWidth": {"value": 2}}}}}}
   }},
  {"data": {"name": "exps"},
   "mark": {"type": "text", "align": "left", "baseline": "middle", "fontSize": 23, "dy": -6, "color": "#000"},
   "encoding": {"x": {"datum": 178.3, "type": "quantitative"}, "y": {"field": "s", "type": "quantitative"}, "text": {"field": "t"}}}
 ]}
],
"resolve": {"scale": {"y": "independent"}, "axis": {"x": "independent", "y": "independent"}}
}
